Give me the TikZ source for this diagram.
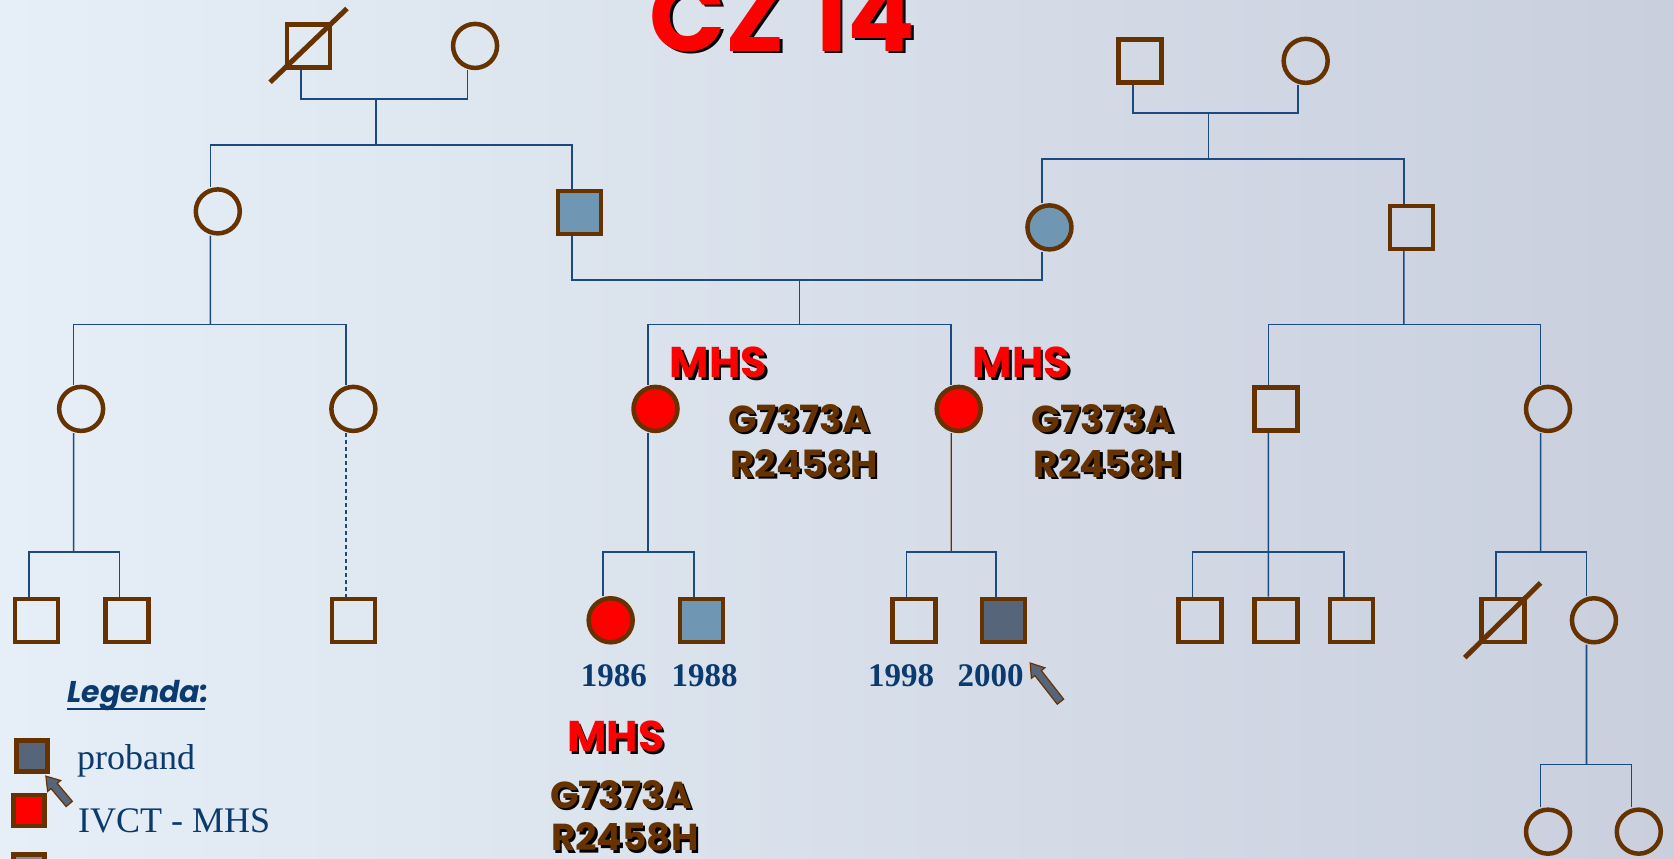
\documentclass[tikz,border=0pt]{standalone}
\usepackage{fontspec}
\setmainfont{Liberation Serif}
\newfontfamily\comic{Poppins}
\definecolor{brn}{HTML}{663300}
\definecolor{lnblue}{HTML}{1A4A80}
\definecolor{sblue}{HTML}{6F96B2}
\definecolor{slate}{HTML}{56657A}
\definecolor{yrblue}{HTML}{0B3A6E}
\definecolor{bgl}{HTML}{E6EFF7}
\definecolor{bgr}{HTML}{C9CFDD}
\newcommand{\shnode}[5]{%
  \node[#3, text=black, anchor=#2] at ([shift={(2.5pt,-2.5pt)}]#1) {#4};
  \node[#3, anchor=#2] (#5) at (#1) {#4};}
\newcommand{\pointer}[3]{%
  \begin{scope}[shift={(#1)}, rotate=#2]
    \draw[draw=brn, fill=slate, line width=1.2pt, line join=miter]
      (0,0) -- (12,8) -- (12,3.8) -- (#3,3.8) -- (#3,-3.8) -- (12,-3.8) -- (12,-8) -- cycle;
  \end{scope}}
\tikzset{
  sq/.style={rectangle, draw=brn, line width=4.5pt, minimum size=43pt, inner sep=0pt},
  ci/.style={circle, draw=brn, line width=4.5pt, minimum size=44pt, inner sep=0pt},
  lsq/.style={rectangle, draw=brn, line width=4.5pt, minimum size=31pt, inner sep=0pt},
  conn/.style={draw=lnblue, line width=1.6pt},
  dead/.style={draw=brn, line width=5pt},
  mhs/.style={font=\comic\bfseries\fontsize{43}{45}\selectfont, text=red, inner sep=0pt},
  mut/.style={font=\comic\bfseries\fontsize{37.5}{40}\selectfont, text=brn, inner sep=0pt},
  yr/.style={font=\bfseries\fontsize{33}{35}\selectfont, text=yrblue, inner sep=0pt},
  leg/.style={font=\fontsize{36}{38}\selectfont, text=yrblue, inner sep=0pt},
}
\begin{document}
\begin{tikzpicture}[x=1.0676pt, y=-1.0676pt]
\useasboundingbox (0,0) rectangle (1568,804);
\fill[left color=bgl, right color=bgr] (0,0) rectangle (1568,804);

% title
\shnode{733,48}{base}{font=\comic\bfseries\fontsize{100}{104}\selectfont, text=red, inner sep=0pt}{CZ\hspace{0.25em}14}{title}

% Generation I
\node[sq] (a1) at (289,43) {};
\draw[dead] (253,77) -- (325,8);
\node[ci] (a2) at (445,43) {};
\node[sq] (c1) at (1068,57) {};
\node[ci] (c2) at (1223,57) {};

% Generation II
\node[ci] (b1) at (204,198) {};
\node[sq, fill=sblue] (b2) at (543,199) {};
\node[ci, fill=sblue] (b3) at (983,213) {};
\node[sq] (b4) at (1322,213) {};

% Generation III
\node[ci] (d1) at (76,383) {};
\node[ci] (d2) at (331,383) {};
\node[ci, fill=red] (d3) at (614,383) {};
\node[ci, fill=red] (d4) at (898,383) {};
\node[sq] (d5) at (1195,383) {};
\node[ci] (d6) at (1450,383) {};

% Generation IV
\node[sq] (e1) at (34,581) {};
\node[sq] (e2) at (119,581) {};
\node[sq] (e3) at (331,581) {};
\node[ci, fill=red] (e4) at (572,581) {};
\node[sq, fill=sblue] (e5) at (657,581) {};
\node[sq] (e6) at (856,581) {};
\node[sq, fill=slate] (e7) at (940,581) {};
\node[sq] (e8) at (1124,581) {};
\node[sq] (e9) at (1195,581) {};
\node[sq] (e10) at (1266,581) {};
\node[sq] (e11) at (1408,581) {};
\draw[dead] (1372,616) -- (1443,546);
\node[ci] (e12) at (1493,581) {};

% Generation V
\node[ci] (f1) at (1450,779) {};
\node[ci] (f2) at (1535,779) {};

% connector coordinates
\coordinate (mA) at (352,93);
\coordinate (sA) at (352,136);
\coordinate (mC) at (1132,106);
\coordinate (sC) at (1132,149);
\coordinate (mB) at (749,262);
\coordinate (sB) at (749,304);
\coordinate (sL) at (197,304);
\coordinate (sR) at (1315,304);
\coordinate (s1) at (69,517);
\coordinate (s3) at (607,517);
\coordinate (s4) at (891,517);
\coordinate (s5) at (1188,517);
\coordinate (s6) at (1443,517);
\coordinate (s7) at (1486,716);

\tikzset{sh/.style={xshift=-7.47pt}}
% Gen I left
\draw[conn] ([sh]a1.south) |- (mA) -| ([sh]a2.south);
\draw[conn] (mA) -- (sA);
\draw[conn] ([sh]b1.north) |- (sA) -| ([sh]b2.north);
% Gen I right
\draw[conn] ([sh]c1.south) |- (mC) -| ([sh]c2.south);
\draw[conn] (mC) -- (sC);
\draw[conn] ([sh]b3.north) |- (sC) -| ([sh]b4.north);
% marriage b2-b3
\draw[conn] ([sh]b2.south) |- (mB) -| ([sh]b3.south);
\draw[conn] (mB) -- (sB);
\draw[conn] ([sh]d3.north) |- (sB) -| ([sh]d4.north);
% b1 children
\draw[conn] ([sh]b1.south) -- (sL);
\draw[conn] ([sh]d1.north) |- (sL) -| ([sh]d2.north);
% b4 children
\draw[conn] ([sh]b4.south) -- (sR);
\draw[conn] ([sh]d5.north) |- (sR) -| ([sh]d6.north);
% d1 children
\draw[conn] ([sh]d1.south) -- (s1);
\draw[conn] ([sh]e1.north) |- (s1) -| ([sh]e2.north);
% d2 child (dashed)
\draw[conn, dash pattern=on 4pt off 3pt] ([sh]d2.south) -- ([sh]e3.north);
% d3 children
\draw[conn] ([sh]d3.south) -- (s3);
\draw[conn] ([sh]e4.north) |- (s3) -| ([sh]e5.north);
% d4 children
\draw[draw=brn, line width=1.4pt] ([sh]d4.south) -- (s4);
\draw[conn] ([sh]e6.north) |- (s4) -| ([sh]e7.north);
% d5 children
\draw[conn] ([sh]d5.south) -- (s5);
\draw[conn] ([sh]e8.north) |- (s5) -| ([sh]e10.north);
\draw[conn] (s5) -- ([sh]e9.north);
% d6 children
\draw[conn] ([sh]d6.south) -- (s6);
\draw[conn] ([sh]e11.north) |- (s6) -| ([sh]e12.north);
% e12 children
\draw[conn] ([sh]e12.south) -- (s7);
\draw[conn] ([sh]f1.north) |- (s7) -| ([sh]f2.north);

% labels
\shnode{627,354}{base west}{mhs}{MHS}{mhs1}
\shnode{911,354}{base west}{mhs}{MHS}{mhs2}
\shnode{531,704}{base west}{mhs}{MHS}{mhs3}
\shnode{682,405}{base west}{mut}{G7373A}{g1}
\shnode{684,447}{base west}{mut}{R2458H}{r1}
\shnode{966,405}{base west}{mut}{G7373A}{g2}
\shnode{968,447}{base west}{mut}{R2458H}{r2}
\shnode{515,757}{base west}{mut}{G7373A}{g3}
\shnode{516,797}{base west}{mut}{R2458H}{r3}

\node[yr, anchor=base] (y1) at (575,643) {1986};
\node[yr, anchor=base] (y2) at (660,643) {1988};
\node[yr, anchor=base] (y3) at (844,643) {1998};
\node[yr, anchor=base] (y4) at (928,643) {2000};
\pointer{965,621}{-52}{46}

% legend
\node[font=\comic\bfseries\itshape\fontsize{30}{32}\selectfont, text=yrblue, inner sep=0pt, anchor=base west] (legt) at (63,658) {Legenda:};
\draw[yrblue, line width=2pt] (63,664) -- (192,664);
\node[lsq, fill=slate] (l1) at (30,708) {};
\pointer{43,727}{-50}{34}
\node[leg, anchor=base west] (l1t) at (72,721) {proband};
\node[lsq, fill=red] (l2) at (27,759) {};
\node[leg, anchor=base west] (l2t) at (73,780) {IVCT - MHS};
\node[lsq, fill=sblue] (l3) at (27,815) {};
\end{tikzpicture}
\end{document}
